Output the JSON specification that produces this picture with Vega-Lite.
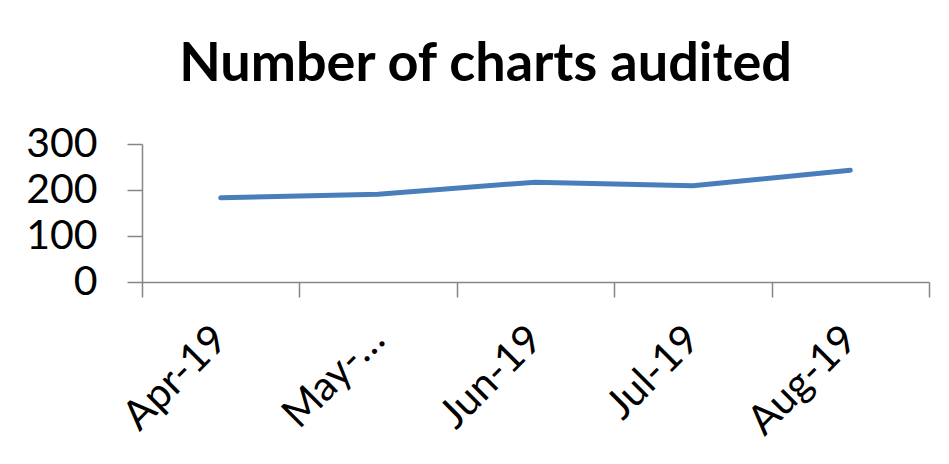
{
  "$schema": "https://vega.github.io/schema/vega-lite/v6.json",
  "width": 787,
  "height": 138,
  "autosize": "none",
  "padding": {"left": 142, "top": 144, "right": 20, "bottom": 182},
  "background": "white",
  "title": {
    "text": "Number of charts audited",
    "font": "Lato",
    "fontSize": 54,
    "fontWeight": "bold",
    "color": "black",
    "anchor": "middle",
    "frame": "group",
    "baseline": "alphabetic",
    "offset": -12,
    "dx": -50
  },
  "data": {
    "values": [
      {"month": "Apr-19", "charts": 183},
      {"month": "May-19", "charts": 191},
      {"month": "Jun-19", "charts": 217},
      {"month": "Jul-19", "charts": 209},
      {"month": "Aug-19", "charts": 243}
    ]
  },
  "mark": {"type": "line", "color": "#4A7EBB", "strokeWidth": 5, "strokeCap": "round", "strokeJoin": "round"},
  "encoding": {
    "x": {
      "field": "month",
      "type": "ordinal",
      "sort": null,
      "title": null,
      "scale": {"type": "band", "paddingInner": 0, "paddingOuter": 0},
      "axis": {
        "domainColor": "#868686",
        "domainWidth": 1.5,
        "tickColor": "#868686",
        "tickWidth": 1.5,
        "tickSize": 15,
        "tickBand": "extent",
        "labelAngle": -45,
        "labelAlign": "right",
        "labelBaseline": "middle",
        "labelPadding": 36,
        "labelFont": "Lato",
        "labelFontSize": 41,
        "labelColor": "black",
        "labelExpr": "datum.label == 'May-19' ? 'May-…' : datum.label"
      }
    },
    "y": {
      "field": "charts",
      "type": "quantitative",
      "title": null,
      "scale": {"domain": [0, 300], "nice": false},
      "axis": {
        "values": [0, 100, 200, 300],
        "grid": false,
        "domainColor": "#868686",
        "domainWidth": 1.5,
        "tickColor": "#868686",
        "tickWidth": 1.5,
        "tickSize": 15,
        "labelPadding": 30,
        "labelFont": "Lato",
        "labelFontSize": 41,
        "labelColor": "black"
      }
    }
  },
  "config": {"view": {"stroke": null}}
}
